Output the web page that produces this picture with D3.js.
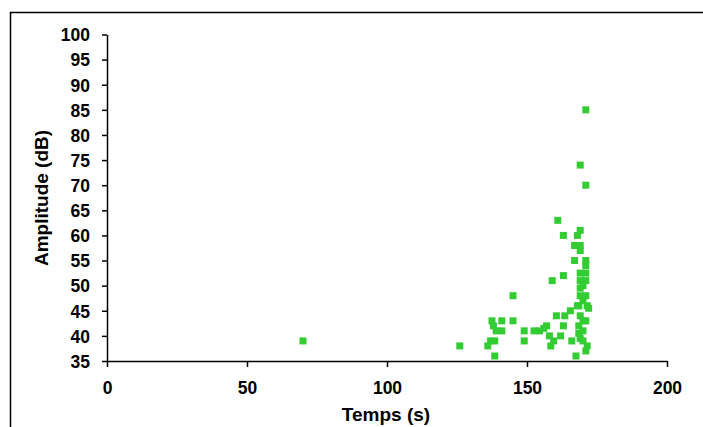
<!DOCTYPE html>
<html><head><meta charset="utf-8">
<script src="https://cdn.jsdelivr.net/npm/d3@7"></script>
<style>body{margin:0;background:#fff;}svg{display:block;}text{font-family:"Liberation Sans",Arial,sans-serif;font-weight:bold;fill:#000;}</style>
</head><body>
<script>
const temps = [70,126,136,137,138.5,138.5,137.5,138,139,141,141,145,145,149,149,152.5,154.5,156,157,158,158.5,159.5,159,160.5,161,162,163,163,163,163.5,165.5,166,167,167,167.5,168,168.5,168.5,168.5,169,169,169,169,169,169,169,169,169,169,170,170,170,170,170,171,171,171,171,171,171,171,171.5,171.5,171,172,168,171];
const amplitude = [39,38,38,39,39,36,43,42,41,41,43,43,48,41,39,41,41,41.5,42,40,38,39,51,44,63,40,60,52,42,44,45,39,58,55,36,60,46,42,40.5,74,61,58,57,52.5,51,49.5,48,44,39.5,50,47,43,41,39,85,70,55,54,52.5,51,48,46,38,37,45.5,46,43];
const xTicks = [0,50,100,150,200];
const yTicks = [35,40,45,50,55,60,65,70,75,80,85,90,95,100];
const xTitle = "Temps (s)";
const yTitle = "Amplitude (dB)";

const W = 703, H = 427;
const svg = d3.select("body").append("svg").attr("width", W).attr("height", H);
svg.append("rect").attr("x",10.5).attr("y",12.5).attr("width",W+20).attr("height",H+20)
  .attr("fill","none").attr("stroke","#000").attr("stroke-width",1.5);

const x = d3.scaleLinear().domain([0,200]).range([107,667]);
const y = d3.scaleLinear().domain([35,100]).range([361,34.5]);

const xa = svg.append("g").attr("transform","translate(0,361)")
  .call(d3.axisBottom(x).tickValues(xTicks).tickSize(6).tickPadding(15).tickSizeOuter(0));
const ya = svg.append("g").attr("transform","translate(107,0)")
  .call(d3.axisLeft(y).tickValues(yTicks).tickSize(5).tickPadding(12).tickSizeOuter(0));
[xa,ya].forEach(g=>{
  g.select(".domain").attr("stroke","#000").attr("stroke-width",1.5);
  g.selectAll(".tick line").attr("stroke","#000").attr("stroke-width",1.5);
  g.selectAll(".tick text").attr("font-size",17.5).attr("font-family","Liberation Sans, Arial, sans-serif").attr("font-weight","bold").attr("fill","#000");
});
ya.selectAll(".tick text").attr("dy","0.36em");

const pts = temps.map((t,i)=>({t, a: amplitude[i]}));
const s = 7;
svg.append("g").selectAll("rect").data(pts).join("rect")
  .attr("x", d=>x(d.t)-s/2).attr("y", d=>y(d.a)-s/2)
  .attr("width", s).attr("height", s).attr("fill", "#33CC33");

svg.append("text").attr("x",386).attr("y",421).attr("text-anchor","middle").attr("font-size",19).text(xTitle);
svg.append("text").attr("transform","translate(47.5,198) rotate(-90)").attr("text-anchor","middle").attr("font-size",19).text(yTitle);
</script>
</body></html>
